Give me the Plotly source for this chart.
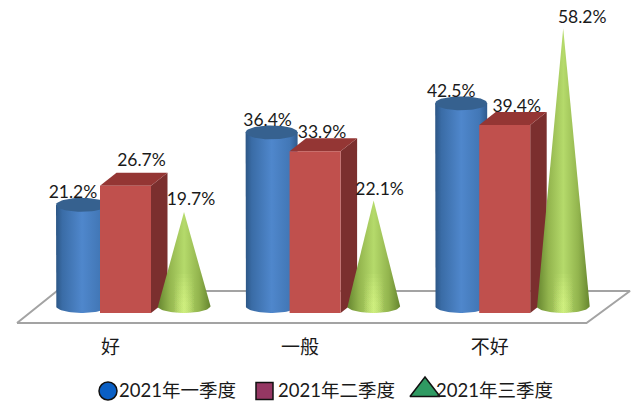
import numpy as np
import plotly.graph_objects as go

categories = ["好", "一般", "不好"]
q1_values = [21.2, 36.4, 42.5]
q2_values = [26.7, 33.9, 39.4]
q3_values = [19.7, 22.1, 58.2]
series_names = ["2021年一季度", "2021年二季度", "2021年三季度"]

# layout of the pseudo-3D projection, in screen pixels of the 638x415 page
W, H = 638, 415
CAT_PX, CAT0_PX = 189.6, 110.5       # category spacing, first category centre
VAL_PX, ZERO_PX = 4.77, 313          # pixels per unit, front baseline
CYL_DX, CYL_RX, ELL_RY = -28.5, 26, 7
BOX_L, BOX_R, DEPTH_X, DEPTH_Y = -10.5, 40.5, 16.5, 13
CONE_DX, CONE_RX = 73.5, 26.5
BASE_LIFT = 7

Q1_LABEL_OFF = [(-9, -11), (-4, -11), (-10, -11)]
Q2_LABEL_OFF = [(16, -24), (7, -18), (12, -17)]
Q3_LABEL_OFF = [(7, -11), (6, -10), (19, -10)]

LEGEND_Y = 392
LEGEND_MARK_X = [108, 264.5, 425]
LEGEND_TEXT_X = [119, 278, 436]
LEGEND_MARKS = ["circle", "square", "triangle-up"]
LEGEND_SIZES = [18, 17, 26]
LEGEND_COLORS = ["#0a5fc4", "#953763", "#2f9a62"]


def dx(px):
    return px / CAT_PX


def dv(px):
    """upward pixels -> value units"""
    return px / VAL_PX


def sx(px):
    """page x pixel -> axis coordinate"""
    return (px - CAT0_PX) / CAT_PX


def sy(px):
    """page y pixel -> axis coordinate"""
    return (ZERO_PX - px) / VAL_PX


x_range = [sx(0), sx(W)]
y_range = [sy(H), sy(0)]

fig = go.Figure()

# floor
fig.add_trace(go.Scatter(
    x=[sx(17), sx(586.5), sx(630), sx(57), sx(17)],
    y=[sy(323), sy(323), sy(291), sy(291), sy(323)], mode="lines",
    fill="toself", fillcolor="white", line=dict(color="#a3a3a3", width=2),
    hoverinfo="skip", showlegend=False))

t = np.linspace(0, np.pi, 40)
BLUE = [[0, "#2c5685"], [0.12, "#3a6ca6"], [0.5, "#4f87cc"], [0.85, "#4277b6"], [1, "#2f5b8e"]]
GREEN = [[0, "#66862f"], [0.22, "#93b54e"], [0.5, "#b5da6b"], [0.78, "#93b54e"], [1, "#66862f"]]
GLOW = [[0, "rgba(225,255,140,0)"], [0.3, "rgba(225,255,140,0)"],
        [0.5, "rgba(225,255,140,0.1)"],
        [0.7, "rgba(225,255,140,0)"], [1, "rgba(225,255,140,0)"]]


def add_poly(xs, ys, color=None, scale=None):
    kw = dict(fillcolor=color) if color else dict(
        fillgradient=dict(type="horizontal", colorscale=scale))
    fig.add_trace(go.Scatter(x=xs, y=ys, mode="lines", fill="toself",
                             line=dict(width=0, color="rgba(0,0,0,0)"),
                             hoverinfo="skip", showlegend=False, **kw))


# draw order inside a group: cylinder, box, cone
for i in range(len(categories)):
    # cylinder
    c = i + dx(CYL_DX)
    base = dv(BASE_LIFT)
    top = base + q1_values[i]
    ex = c + dx(CYL_RX) * np.cos(t)
    ey = dv(ELL_RY) * np.sin(t)
    xs = np.concatenate([[c - dx(CYL_RX)], ex[::-1], [c + dx(CYL_RX)], [c - dx(CYL_RX)]])
    ys = np.concatenate([[top], base - ey[::-1], [top], [top]])
    add_poly(xs, ys, scale=BLUE)
    th = np.linspace(0, 2 * np.pi, 70)
    add_poly(c + dx(CYL_RX) * np.cos(th), top + dv(ELL_RY) * np.sin(th), color="#36618f")

    # box
    l, r = i + dx(BOX_L), i + dx(BOX_R)
    v = q2_values[i]
    ddx, ddv = dx(DEPTH_X), dv(DEPTH_Y)
    add_poly([r, r + ddx, r + ddx, r, r], [0, ddv, v + ddv, v, 0], color="#7b2f2e")
    add_poly([l, r, r + ddx, l + ddx, l], [v, v, v + ddv, v + ddv, v], color="#943634")
    add_poly([l, r, r, l, l], [0, 0, v, v, 0], color="#c0504d")

    # cone
    c = i + dx(CONE_DX)
    v = q3_values[i]
    ex = c + dx(CONE_RX) * np.cos(t)
    ey = dv(ELL_RY) * np.sin(t)
    add_poly(np.concatenate([[c], ex[::-1], [c]]),
             np.concatenate([[base + v], base - ey[::-1], [base + v]]), scale=GREEN)
    # the lit lower part of the cone: nested slices that fade upwards
    for band_px in (4, 8, 12, 16, 20, 24, 28, 32):
        h = dv(band_px)
        frac = 1 - h / v
        rx = dx(CONE_RX)
        fig.add_trace(go.Scatter(
            x=np.concatenate([[c - rx * frac], ex[::-1], [c + rx * frac], [c - rx * frac]]),
            y=np.concatenate([[base + h], base - ey[::-1], [base + h], [base + h]]),
            mode="lines", fill="toself", line=dict(width=0, color="rgba(0,0,0,0)"),
            fillgradient=dict(type="horizontal", colorscale=GLOW),
            hoverinfo="skip", showlegend=False))


def labels(vals, centre_dx, off, lift):
    fig.add_trace(go.Scatter(
        x=[i + dx(centre_dx + off[i][0]) for i in range(3)],
        y=[vals[i] + dv(lift - off[i][1]) for i in range(3)],
        text=[f"{v:.1f}%" for v in vals], mode="text", textposition="middle center",
        textfont=dict(size=17.5, color="#1a1a1a", family="Lato, Noto Sans CJK SC"),
        cliponaxis=False, hoverinfo="skip", showlegend=False))


labels(q1_values, CYL_DX, Q1_LABEL_OFF, BASE_LIFT)
labels(q2_values, (BOX_L + BOX_R) / 2, Q2_LABEL_OFF, 0)
labels(q3_values, CONE_DX, Q3_LABEL_OFF, BASE_LIFT)

# legend, placed by hand so marker and text sit as tight as in the picture
for j, name in enumerate(series_names):
    fig.add_trace(go.Scatter(
        x=[sx(LEGEND_MARK_X[j])], y=[sy(LEGEND_Y + (-2 if j == 2 else -1))], mode="markers", name=name,
        marker=dict(symbol=LEGEND_MARKS[j], color=LEGEND_COLORS[j], size=LEGEND_SIZES[j],
                    line=dict(color="#111111", width=1.5)),
        hoverinfo="skip", showlegend=False))
    fig.add_trace(go.Scatter(
        x=[sx(LEGEND_TEXT_X[j])], y=[sy(LEGEND_Y)], mode="text", text=[name],
        textposition="middle right",
        textfont=dict(size=18.5, color="#1a1a1a", family="Lato, Noto Sans CJK SC"),
        hoverinfo="skip", showlegend=False))

fig.update_layout(
    width=W, height=H, margin=dict(l=0, r=0, t=0, b=0),
    paper_bgcolor="white", plot_bgcolor="white",
    font=dict(family="Lato, Noto Sans CJK SC", size=17, color="#1a1a1a"),
    hovermode=False, showlegend=False,
    xaxis=dict(range=x_range, tickvals=[0, 1, 2], ticktext=categories, showgrid=False,
               zeroline=False, showline=False, ticks="", anchor="free",
               position=1 - 334 / H, tickfont=dict(size=19), fixedrange=True),
    yaxis=dict(range=y_range, visible=False, fixedrange=True),
)

fig.write_html("out.html", config={"displayModeBar": False},
               post_script="document.body.style.margin='0';document.body.style.overflow='hidden';")
